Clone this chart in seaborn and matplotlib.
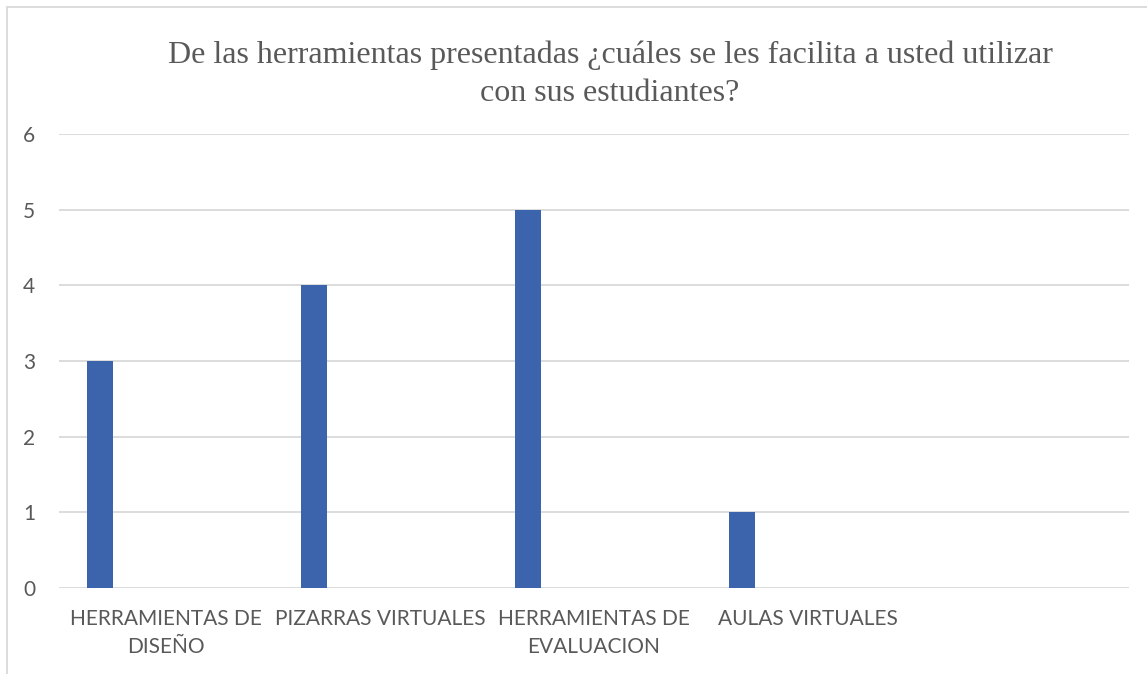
import matplotlib
matplotlib.use("Agg")
import matplotlib.pyplot as plt
import seaborn as sns
import pandas as pd
from matplotlib.patches import Rectangle

# Survey answers: how many teachers find each tool easy to use
categories = ["HERRAMIENTAS DE\nDISEÑO", "PIZARRAS VIRTUALES", "HERRAMIENTAS DE\nEVALUACION",
              "AULAS VIRTUALES", " "]
counts = [3, 4, 5, 1, 0]
y_ticks = [0, 1, 2, 3, 4, 5, 6]
title = "De las herramientas presentadas ¿cuáles se les facilita a usted utilizar\ncon sus estudiantes?"

sns.set_theme(style="white")
plt.rcParams["font.family"] = ["Lato", "DejaVu Sans"]

W, H = 1147, 674
fig = plt.figure(figsize=(W / 100, H / 100), dpi=100)
ax = fig.add_axes([59 / W, 86 / H, (1129 - 59) / W, 454 / H])

df = pd.DataFrame({"cat": categories, "n": counts})
sns.barplot(data=df, x="cat", y="n", color="#3b64ad", width=26 / 214,
            saturation=1, linewidth=0, ax=ax, zorder=3)

# first-series bars sit toward the left of each category slot
shift = -66 / 214
for p in ax.patches:
    p.set_x(p.get_x() + shift)

ax.set_ylim(0, 6)
ax.set_xlim(-0.5, len(categories) - 0.5)
ax.set_yticks(y_ticks)
ax.yaxis.grid(True, color="#d9d9d9", linewidth=1.3, zorder=0)
ax.xaxis.grid(False)
for s in ax.spines.values():
    s.set_visible(False)
ax.set_xlabel("")
ax.set_ylabel("")
ax.tick_params(axis="y", length=0, pad=17, labelsize=15, labelcolor="#595959")
ax.tick_params(axis="x", length=0, pad=15, labelsize=15, labelcolor="#595959")
for t in ax.get_xticklabels():
    t.set_linespacing(1.5)

fig.text(610 / W, 1 - 74 / H, title, ha="center", va="center",
         fontsize=23, color="#595959", family="Liberation Serif", linespacing=1.4)

# chart area frame
fig.patches.append(Rectangle((7 / W, -0.05), 1.2, 1 - 7 / H + 0.05,
                             transform=fig.transFigure, fill=False,
                             edgecolor="#d9d9d9", linewidth=1.3))

fig.savefig("out.png", dpi=100, facecolor="white")
